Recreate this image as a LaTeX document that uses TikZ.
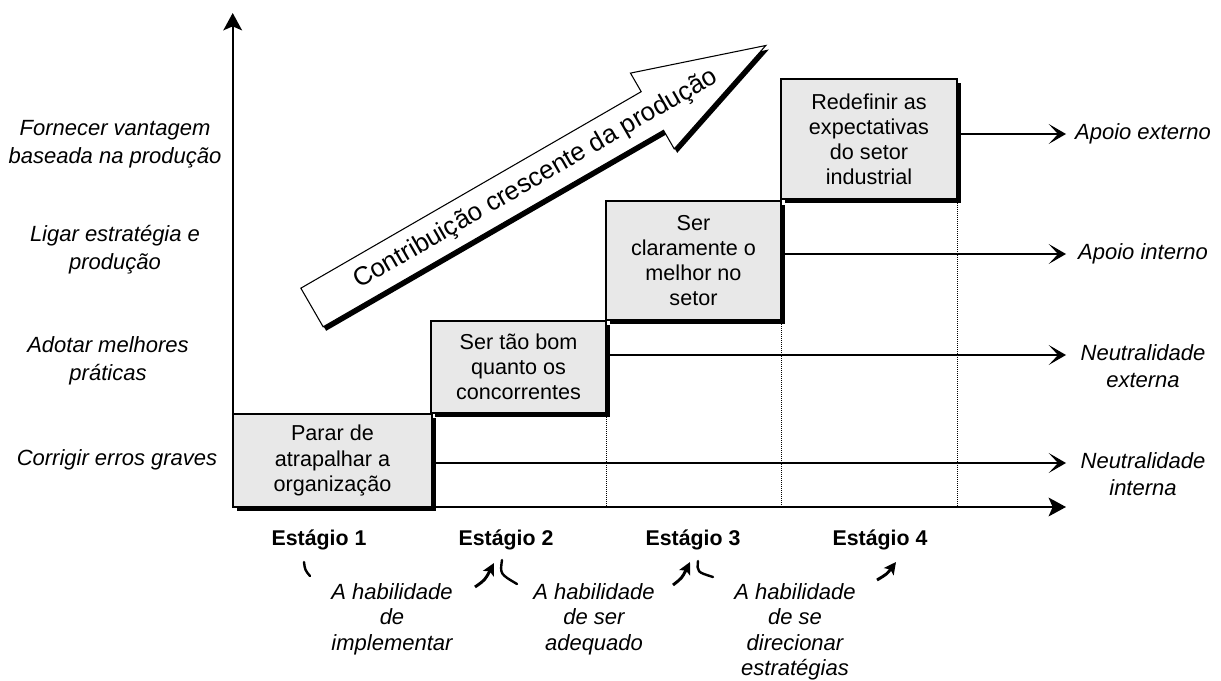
\documentclass[tikz,border=0pt]{standalone}
\usepackage{fontspec}
\setmainfont{Liberation Sans}
\usetikzlibrary{arrows.meta,shadows}
\definecolor{boxgray}{RGB}{232,232,232}
\begin{document}
\begin{tikzpicture}[x=0.75pt,y=-0.75pt,
  stagebox/.style={draw=black, line width=0.8pt, fill=boxgray, align=center, inner sep=0pt,
    font=\fontsize{16.2}{18.8}\selectfont,
    drop shadow={opacity=1, fill=black, shadow xshift=3pt, shadow yshift=-3pt}},
  axisline/.style={line width=1.7pt, -{Stealth[length=13pt, width=14pt, inset=3pt]}},
  levelarrow/.style={line width=1.1pt, -{Stealth[length=13pt, width=15pt, inset=7pt]}},
  guide/.style={line width=0.5pt, densely dotted},
  leftlabel/.style={align=center, font=\fontsize{16.5}{21}\selectfont\itshape, inner sep=0pt},
  rightlabel/.style={align=center, font=\fontsize{16.5}{20.3}\selectfont\itshape, inner sep=0pt, anchor=north},
  stagelabel/.style={font=\fontsize{16}{19}\selectfont\bfseries, inner sep=0pt, anchor=base},
  bottomlabel/.style={align=center, font=\fontsize{16.5}{19.1}\selectfont\itshape, inner sep=0pt, anchor=north},
  handmark/.style={line width=1.8pt, line cap=round},
  handarrow/.style={line width=2.2pt, -{Stealth[length=9pt, width=9pt, inset=2pt]}}
]
\useasboundingbox (0,0) rectangle (1221,681);

% axes
\coordinate (O) at (232.7,507);
\coordinate (ytop) at (232.7,13);
\coordinate (xend) at (1066,507);

% dotted guides
\coordinate (g1t) at (606,413); \coordinate (g1b) at (606,507);
\coordinate (g2t) at (781,320); \coordinate (g2b) at (781,507);
\coordinate (g3t) at (957,199); \coordinate (g3b) at (957,507);
\draw[guide] (g1t) -- (g1b);
\draw[guide] (g2t) -- (g2b);
\draw[guide] (g3t) -- (g3b);

% big arrow
\begin{scope}[shift={(315,311.5)}, rotate=30]
  \fill[black] (0,-22.3) -- (393,-22.3) -- (393,-43.75) -- (524,0) -- (393,43.75) -- (393,22.3) -- (0,22.3) -- cycle;
\end{scope}
\begin{scope}[shift={(312,307.5)}, rotate=30]
  \draw[fill=white, line width=0.8pt] (0,-22.3) -- (393,-22.3) -- (393,-43.75) -- (524,0) -- (393,43.75) -- (393,22.3) -- (0,22.3) -- cycle;
  \node[rotate=30, inner sep=0pt, font=\fontsize{19.4}{23}\selectfont] (bigtext) at (258,1) {Contribuição crescente da produção};
\end{scope}

% boxes
\node[stagebox, minimum width=149.25pt, minimum height=69.75pt] (b1) at (332.5,460.5) {Parar de\\atrapalhar a\\organização};
\node[stagebox, minimum width=131.25pt, minimum height=69pt] (b2) at (518.5,367) {Ser tão bom\\quanto os\\concorrentes};
\node[stagebox, minimum width=131.25pt, minimum height=89.25pt] (b3) at (693.5,260.5) {Ser\\claramente o\\melhor no\\setor};
\node[stagebox, minimum width=132pt, minimum height=90pt] (b4) at (869,139) {Redefinir as\\expectativas\\do setor\\industrial};

\draw[axisline] (O) -- (ytop);
\draw[axisline] (O) -- (xend);

% level arrows
\coordinate (e4) at (1066,134);
\coordinate (e3) at (1066,254);
\coordinate (e2) at (1066,355);
\coordinate (e1) at (1066,463);
\draw[levelarrow] (b4.east |- e4) -- (e4);
\draw[levelarrow] (b3.east |- e3) -- (e3);
\draw[levelarrow] (b2.east |- e2) -- (e2);
\draw[levelarrow] (b1.east |- e1) -- (e1);

% left labels
\node[leftlabel] (l4) at (115,144) {Fornecer vantagem\\baseada na produção};
\node[leftlabel] (l3) at (115,250) {Ligar estratégia e\\produção};
\node[leftlabel] (l2) at (108,361) {Adotar melhores\\práticas};
\node[leftlabel] (l1) at (117,460) {Corrigir erros graves};

% right labels
\node[rightlabel] (r4) at (1143,123) {Apoio externo};
\node[rightlabel] (r3) at (1143,243) {Apoio interno};
\node[rightlabel] (r2) at (1143,344) {Neutralidade\\externa};
\node[rightlabel] (r1) at (1143,452) {Neutralidade\\interna};

% stage labels
\node[stagelabel] (s1) at (319,545.7) {Estágio 1};
\node[stagelabel] (s2) at (506,545.7) {Estágio 2};
\node[stagelabel] (s3) at (693,545.7) {Estágio 3};
\node[stagelabel] (s4) at (880,545.7) {Estágio 4};

% bottom labels
\node[bottomlabel] (h1) at (392,583) {A habilidade\\de\\implementar};
\node[bottomlabel] (h2) at (594,583) {A habilidade\\de ser\\adequado};
\node[bottomlabel] (h3) at (795,583) {A habilidade\\de se\\direcionar\\estratégias};

% hand drawn marks
\draw[handmark] (304,562) .. controls (305,570) .. (310,576);
\draw[handarrow] (475,587) .. controls (485,580) .. (494,563);
\draw[handmark] (502,560) .. controls (500,574) .. (517,584);
\draw[handarrow] (673,585) .. controls (682,578) .. (690,562);
\draw[handmark] (698,561) .. controls (697,572) .. (713,577);
\draw[handarrow] (877,580) .. controls (887,574) .. (896,562);
\end{tikzpicture}
\end{document}
